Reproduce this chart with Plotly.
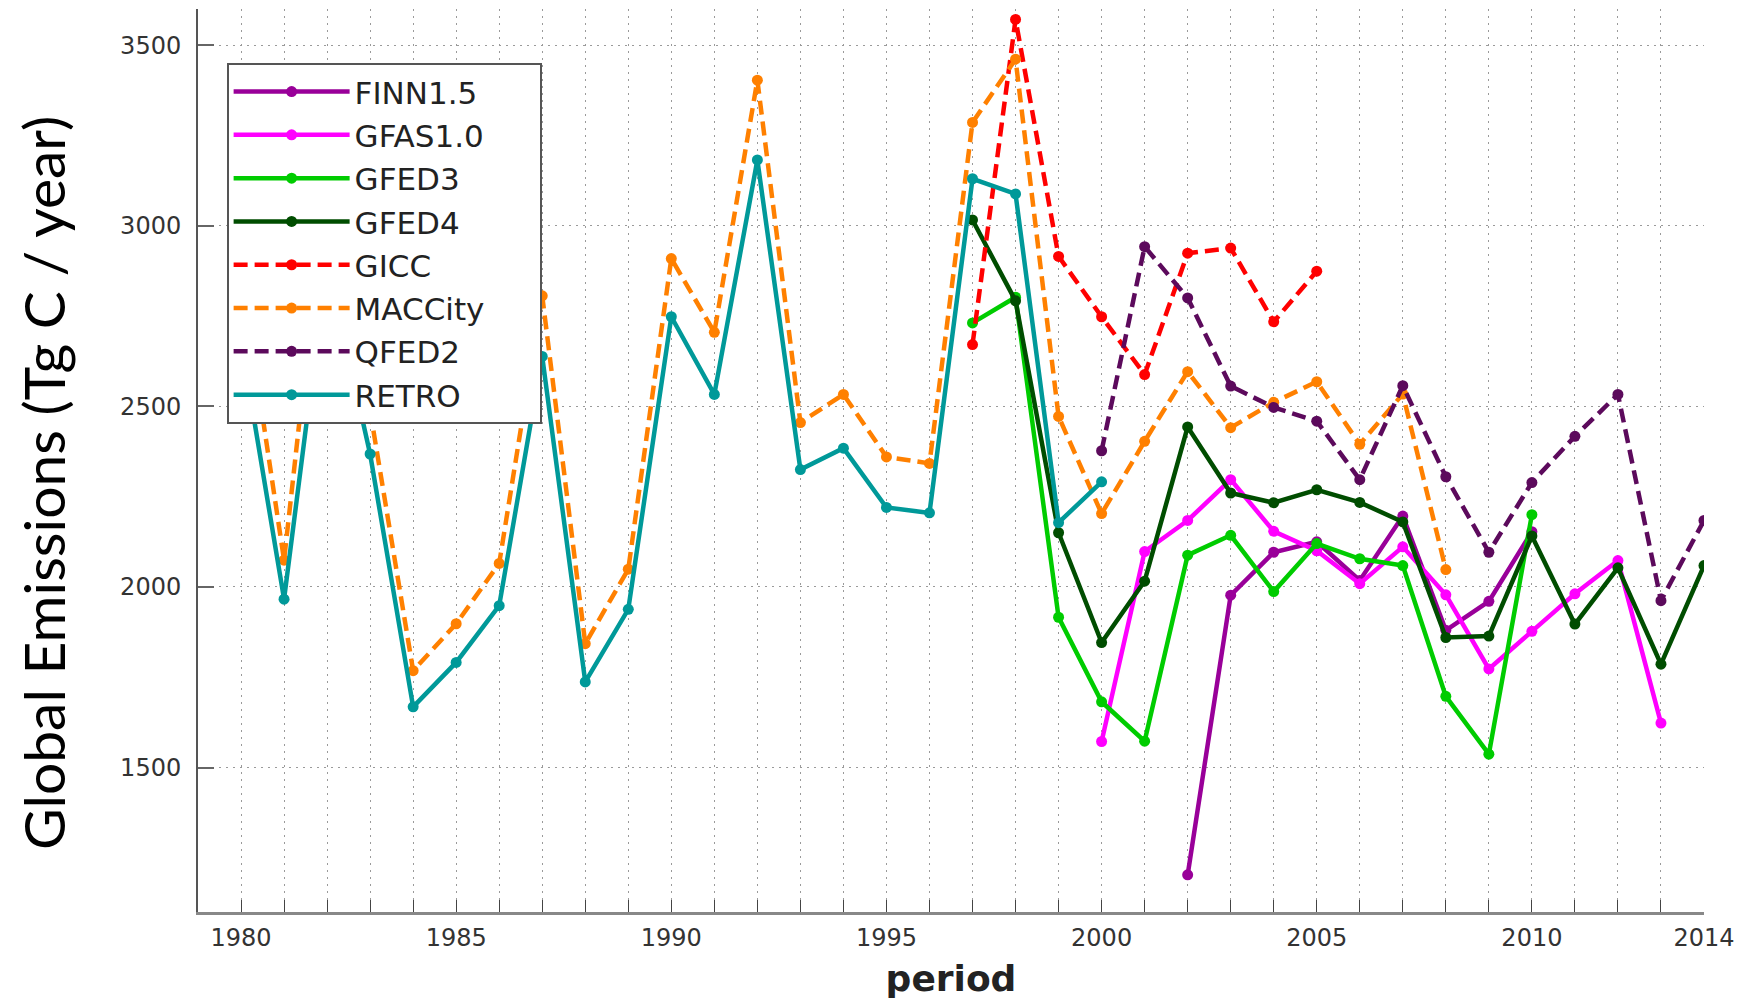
import plotly.graph_objects as go

# ---------------- data (Tg C / year) ----------------
finn_years = list(range(2002, 2011))
finn_vals = [1203, 1977, 2096, 2125, 2018, 2196, 1880, 1960, 2153]

gfas_years = list(range(2000, 2014))
gfas_vals = [1572, 2098, 2184, 2297, 2154, 2100, 2009, 2111, 1978, 1773,
             1877, 1981, 2073, 1623]

gfed3_years = list(range(1997, 2011))
gfed3_vals = [2731, 2802, 1916, 1682, 1573, 2088, 2143, 1987, 2120, 2078,
              2059, 1697, 1537, 2200]

gfed4_years = list(range(1997, 2015))
gfed4_vals = [3016, 2792, 2150, 1846, 2016, 2443, 2260, 2233, 2269, 2234,
              2180, 1860, 1864, 2141, 1897, 2053, 1786, 2059]

gicc_years = list(range(1997, 2006))
gicc_vals = [2671, 3571, 2915, 2748, 2588, 2924, 2938, 2734, 2874]

maccity_years = list(range(1980, 2009))
maccity_vals = [2870, 2074, 3150, 2488, 1768, 1898, 2065, 2806, 1843, 2049,
                2909, 2705, 3403, 2455, 2533, 2360, 2342, 3286, 3461, 2472,
                2203, 2403, 2596, 2441, 2511, 2568, 2395, 2534, 2048]

qfed2_years = list(range(2000, 2015))
qfed2_vals = [2377, 2942, 2800, 2556, 2497, 2459, 2297, 2557, 2305, 2096,
              2289, 2417, 2533, 1962, 2184]

retro_years = list(range(1980, 2001))
retro_vals = [2680, 1966, 2900, 2368, 1668, 1791, 1948, 2638, 1737, 1938,
              2748, 2533, 3182, 2325, 2384, 2220, 2205, 3130, 3088, 2178,
              2291]

all_years = list(range(1980, 2015))
x_label_years = [1980, 1985, 1990, 1995, 2000, 2005, 2010, 2014]
y_ticks = [1500, 2000, 2500, 3000, 3500]

series = [
    ("FINN1.5", finn_years, finn_vals, "#990099", "solid"),
    ("GFAS1.0", gfas_years, gfas_vals, "#ff00ff", "solid"),
    ("GFED3", gfed3_years, gfed3_vals, "#00cc00", "solid"),
    ("GFED4", gfed4_years, gfed4_vals, "#004d00", "solid"),
    ("GICC", gicc_years, gicc_vals, "#ff0000", "14px,7px"),
    ("MACCity", maccity_years, maccity_vals, "#ff8000", "14px,7px"),
    ("QFED2", qfed2_years, qfed2_vals, "#5c0a5c", "14px,7px"),
    ("RETRO", retro_years, retro_vals, "#009999", "solid"),
]

PAD = "\u00a0" * 5  # right padding inside the legend box

fig = go.Figure()
for name, xs, ys, color, dash in series:
    fig.add_trace(go.Scatter(
        x=xs, y=ys, name=name + PAD, mode="lines+markers",
        line=dict(color=color, width=4.5, dash=dash),
        marker=dict(color=color, size=11, symbol="circle"),
    ))

tick_font = dict(family="DejaVu Sans", size=24, color="#333333")
grid = dict(showgrid=True, gridcolor="#9a9a9a", gridwidth=1, griddash="2px,5px")

fig.update_layout(
    width=1744, height=1002,
    margin=dict(l=198, r=33, t=9, b=88),
    paper_bgcolor="white", plot_bgcolor="white",
    showlegend=True,
    legend=dict(
        x=0.019, y=0.9403, xanchor="left", yanchor="top",
        bgcolor="white", bordercolor="#555555", borderwidth=2,
        font=dict(family="DejaVu Sans", size=31, color="#222222"),
        itemwidth=116,
    ),
    xaxis=dict(
        range=[1979, 2014], tickmode="array", tickvals=x_label_years,
        ticks="inside", ticklen=12, tickwidth=1, tickcolor="#444444",
        showline=True, linecolor="#888888", linewidth=3,
        zeroline=False, tickfont=tick_font, ticklabelstandoff=2,
        title=dict(text="<b>period</b>",
                   font=dict(family="DejaVu Sans", size=36, color="#222222"),
                   standoff=16),
        minor=dict(tickmode="array", tickvals=all_years, ticks="inside",
                   ticklen=12, tickwidth=1, tickcolor="#444444", **grid),
        **grid,
    ),
    yaxis=dict(
        range=[1100, 3600], tickmode="array", tickvals=y_ticks,
        ticks="inside", ticklen=16, tickwidth=2, tickcolor="#666666",
        showline=True, linecolor="#555555", linewidth=2,
        zeroline=False, tickfont=tick_font, ticklabelstandoff=10,
        **grid,
    ),
    annotations=[dict(
        text="Global Emissions (Tg C / year)", textangle=-90,
        xref="paper", yref="paper", x=-0.103, y=0.475,
        xanchor="center", yanchor="middle", showarrow=False,
        font=dict(family="Lato", size=57, color="#000000"),
    )],
)

fig.write_html(
    "out.html",
    config={"displayModeBar": False},
    post_script="document.body.style.margin='0';document.body.style.overflow='hidden';",
)
